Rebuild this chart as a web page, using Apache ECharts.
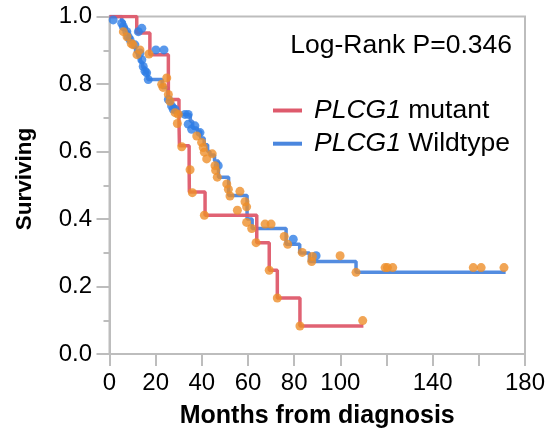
<!DOCTYPE html>
<html><head><meta charset="utf-8">
<script src="https://cdn.jsdelivr.net/npm/echarts@6/dist/echarts.min.js"></script>
<style>html,body{margin:0;padding:0;background:#fff}#c{width:549px;height:434px}</style>
</head><body><div id="c"></div>
<script>
// Kaplan-Meier step curves: [month, surviving fraction]
const mutantCurve = [[0,1],[11.8,0.951],[17.5,0.887],[25.5,0.754],[30.1,0.686],[30.3,0.617],[34.5,0.549],[34.6,0.48],[41.4,0.411],[63.8,0.33],[69.2,0.248],[72.7,0.166],[82.5,0.083],[110,0.083]];
const wildtypeCurve = [[0,1],[5.3,0.985],[6.3,0.97],[7.3,0.955],[8.3,0.94],[9.3,0.925],[10.3,0.91],[11.3,0.895],[12.3,0.88],[13.3,0.865],[14.3,0.85],[15.3,0.835],[16.6,0.813],[22.8,0.79],[25.3,0.754],[27,0.735],[28.5,0.72],[29.8,0.71],[35,0.69],[36,0.67],[38,0.66],[39.5,0.64],[41,0.62],[42.5,0.6],[43.5,0.59],[45.5,0.572],[47.2,0.524],[51.6,0.47],[59.6,0.4],[61.8,0.372],[76.5,0.325],[82.4,0.299],[86.6,0.274],[106.8,0.242],[171.6,0.242]];
// marker dots
const orangeDots = [[6.0,0.955],[7.6,0.94],[9.4,0.92],[10.2,0.916],[11.9,0.887],[13.2,0.901],[17.1,0.889],[22.6,0.799],[23.2,0.79],[24.8,0.818],[25.5,0.769],[26.2,0.749],[28.4,0.715],[29.4,0.683],[29.8,0.71],[31.3,0.614],[34.9,0.546],[35.9,0.478],[37.8,0.646],[39.9,0.627],[40.6,0.612],[41.1,0.598],[41.1,0.411],[42.1,0.578],[44.5,0.593],[45.7,0.558],[46.0,0.544],[46.7,0.524],[50.8,0.504],[51.5,0.488],[52.2,0.468],[55.4,0.426],[56.5,0.482],[58.7,0.451],[59.4,0.436],[59.4,0.39],[61.6,0.372],[63.5,0.33],[67.4,0.385],[70.0,0.385],[69.2,0.248],[72.7,0.166],[75.7,0.348],[77.2,0.325],[82.5,0.083],[83.5,0.301],[87.6,0.274],[87.9,0.289],[99.9,0.291],[106.8,0.242],[109.7,0.099],[119.4,0.256],[120.4,0.256],[122.7,0.256],[157.6,0.256],[161.0,0.256],[170.9,0.256]];
const blueDots = [[1.6,0.99],[5.3,0.98],[6.0,0.97],[7.5,0.955],[8.1,0.94],[8.9,0.931],[11.0,0.916],[12.5,0.955],[14.0,0.965],[13.2,0.892],[14.0,0.872],[14.6,0.852],[15.4,0.838],[16.1,0.833],[16.8,0.813],[20.1,0.901],[23.6,0.901],[25.5,0.754],[26.9,0.735],[27.6,0.725],[28.4,0.725],[32.7,0.71],[34.1,0.71],[34.1,0.681],[35.6,0.666],[37.0,0.676],[39.2,0.656],[47.1,0.558],[79.6,0.34],[89.5,0.291]];
const xTicks = [0,20,40,60,80,100,120,140,160,180];
const xLabels = [0,20,40,60,80,100,140,180];
const yTicks = [0,0.2,0.4,0.6,0.8,1.0];

const FONT = 'Liberation Sans, Arial, Helvetica, sans-serif';
const AXIS = '#bdbdbd';
const chart = echarts.init(document.getElementById('c'));
chart.setOption({
  animation: false,
  grid: {left: 109.5, right: 24, top: 16.5, bottom: 77.5, show: true, borderColor: AXIS, borderWidth: 2},
  xAxis: {
    type: 'value', min: xTicks[0], max: xTicks[xTicks.length-1], interval: 20,
    axisLine: {show: true, lineStyle: {color: AXIS, width: 2}},
    axisTick: {show: true, length: 12, lineStyle: {color: AXIS, width: 2}},
    splitLine: {show: false},
    axisLabel: {margin: 17, fontSize: 24, color: '#000', fontFamily: FONT,
      formatter: v => xLabels.indexOf(v) >= 0 ? String(v) : ''},
    name: 'Months from diagnosis', nameLocation: 'middle', nameGap: 50,
    nameTextStyle: {fontSize: 25, fontWeight: 'bold', color: '#000', fontFamily: FONT}
  },
  yAxis: {
    type: 'value', min: yTicks[0], max: yTicks[yTicks.length-1], interval: 0.2,
    axisLine: {show: true, lineStyle: {color: AXIS, width: 2}},
    axisTick: {show: true, length: 13, lineStyle: {color: AXIS, width: 2}},
    minorTick: {show: true, splitNumber: 2, length: 6, lineStyle: {color: AXIS, width: 2}},
    splitLine: {show: false}, minorSplitLine: {show: false},
    axisLabel: {margin: 17.5, fontSize: 24, color: '#000', fontFamily: FONT, formatter: v => v.toFixed(1)}
  },
  legend: {
    orient: 'vertical', left: 268, top: 92, itemWidth: 29, itemHeight: 4, itemGap: 6.2, icon: 'rect',
    data: ['mutant', 'wildtype'],
    formatter: n => n === 'mutant' ? '{i|PLCG1} mutant' : '{i|PLCG1} Wildtype',
    textStyle: {fontSize: 26.5, color: '#000', fontFamily: FONT, padding: [0,0,0,7],
      rich: {i: {fontStyle: 'italic', fontSize: 26.5, color: '#000', fontFamily: FONT}}}
  },
  graphic: [
    {type: 'text', x: 512, y: 46, style: {text: 'Log-Rank P=0.346', fontSize: 26.5, fontFamily: FONT, fill: '#000', align: 'right', verticalAlign: 'middle'}},
    {type: 'text', x: 25, y: 179, rotation: Math.PI/2, style: {text: 'Surviving', fontSize: 22.5, fontWeight: 'bold', fontFamily: FONT, fill: '#000', align: 'center', verticalAlign: 'middle'}}
  ],
  series: [
    {name: 'wildtype', type: 'line', step: 'end', data: wildtypeCurve, showSymbol: false, color: '#4a86de',
      lineStyle: {width: 3.5, color: '#4a86de', opacity: 0.95}, z: 2},
    {name: 'mutant', type: 'line', step: 'end', data: mutantCurve, showSymbol: false, color: '#de5a6c',
      lineStyle: {width: 3.5, color: '#de5a6c', opacity: 0.95}, z: 3},
    {name: 'bdots', type: 'scatter', data: blueDots, symbolSize: 9, itemStyle: {color: '#2f7ee6'}, z: 4},
    {name: 'odots', type: 'scatter', data: orangeDots, symbolSize: 9, itemStyle: {color: '#ee8f2a'}, z: 5}
  ]
});
</script></body></html>
